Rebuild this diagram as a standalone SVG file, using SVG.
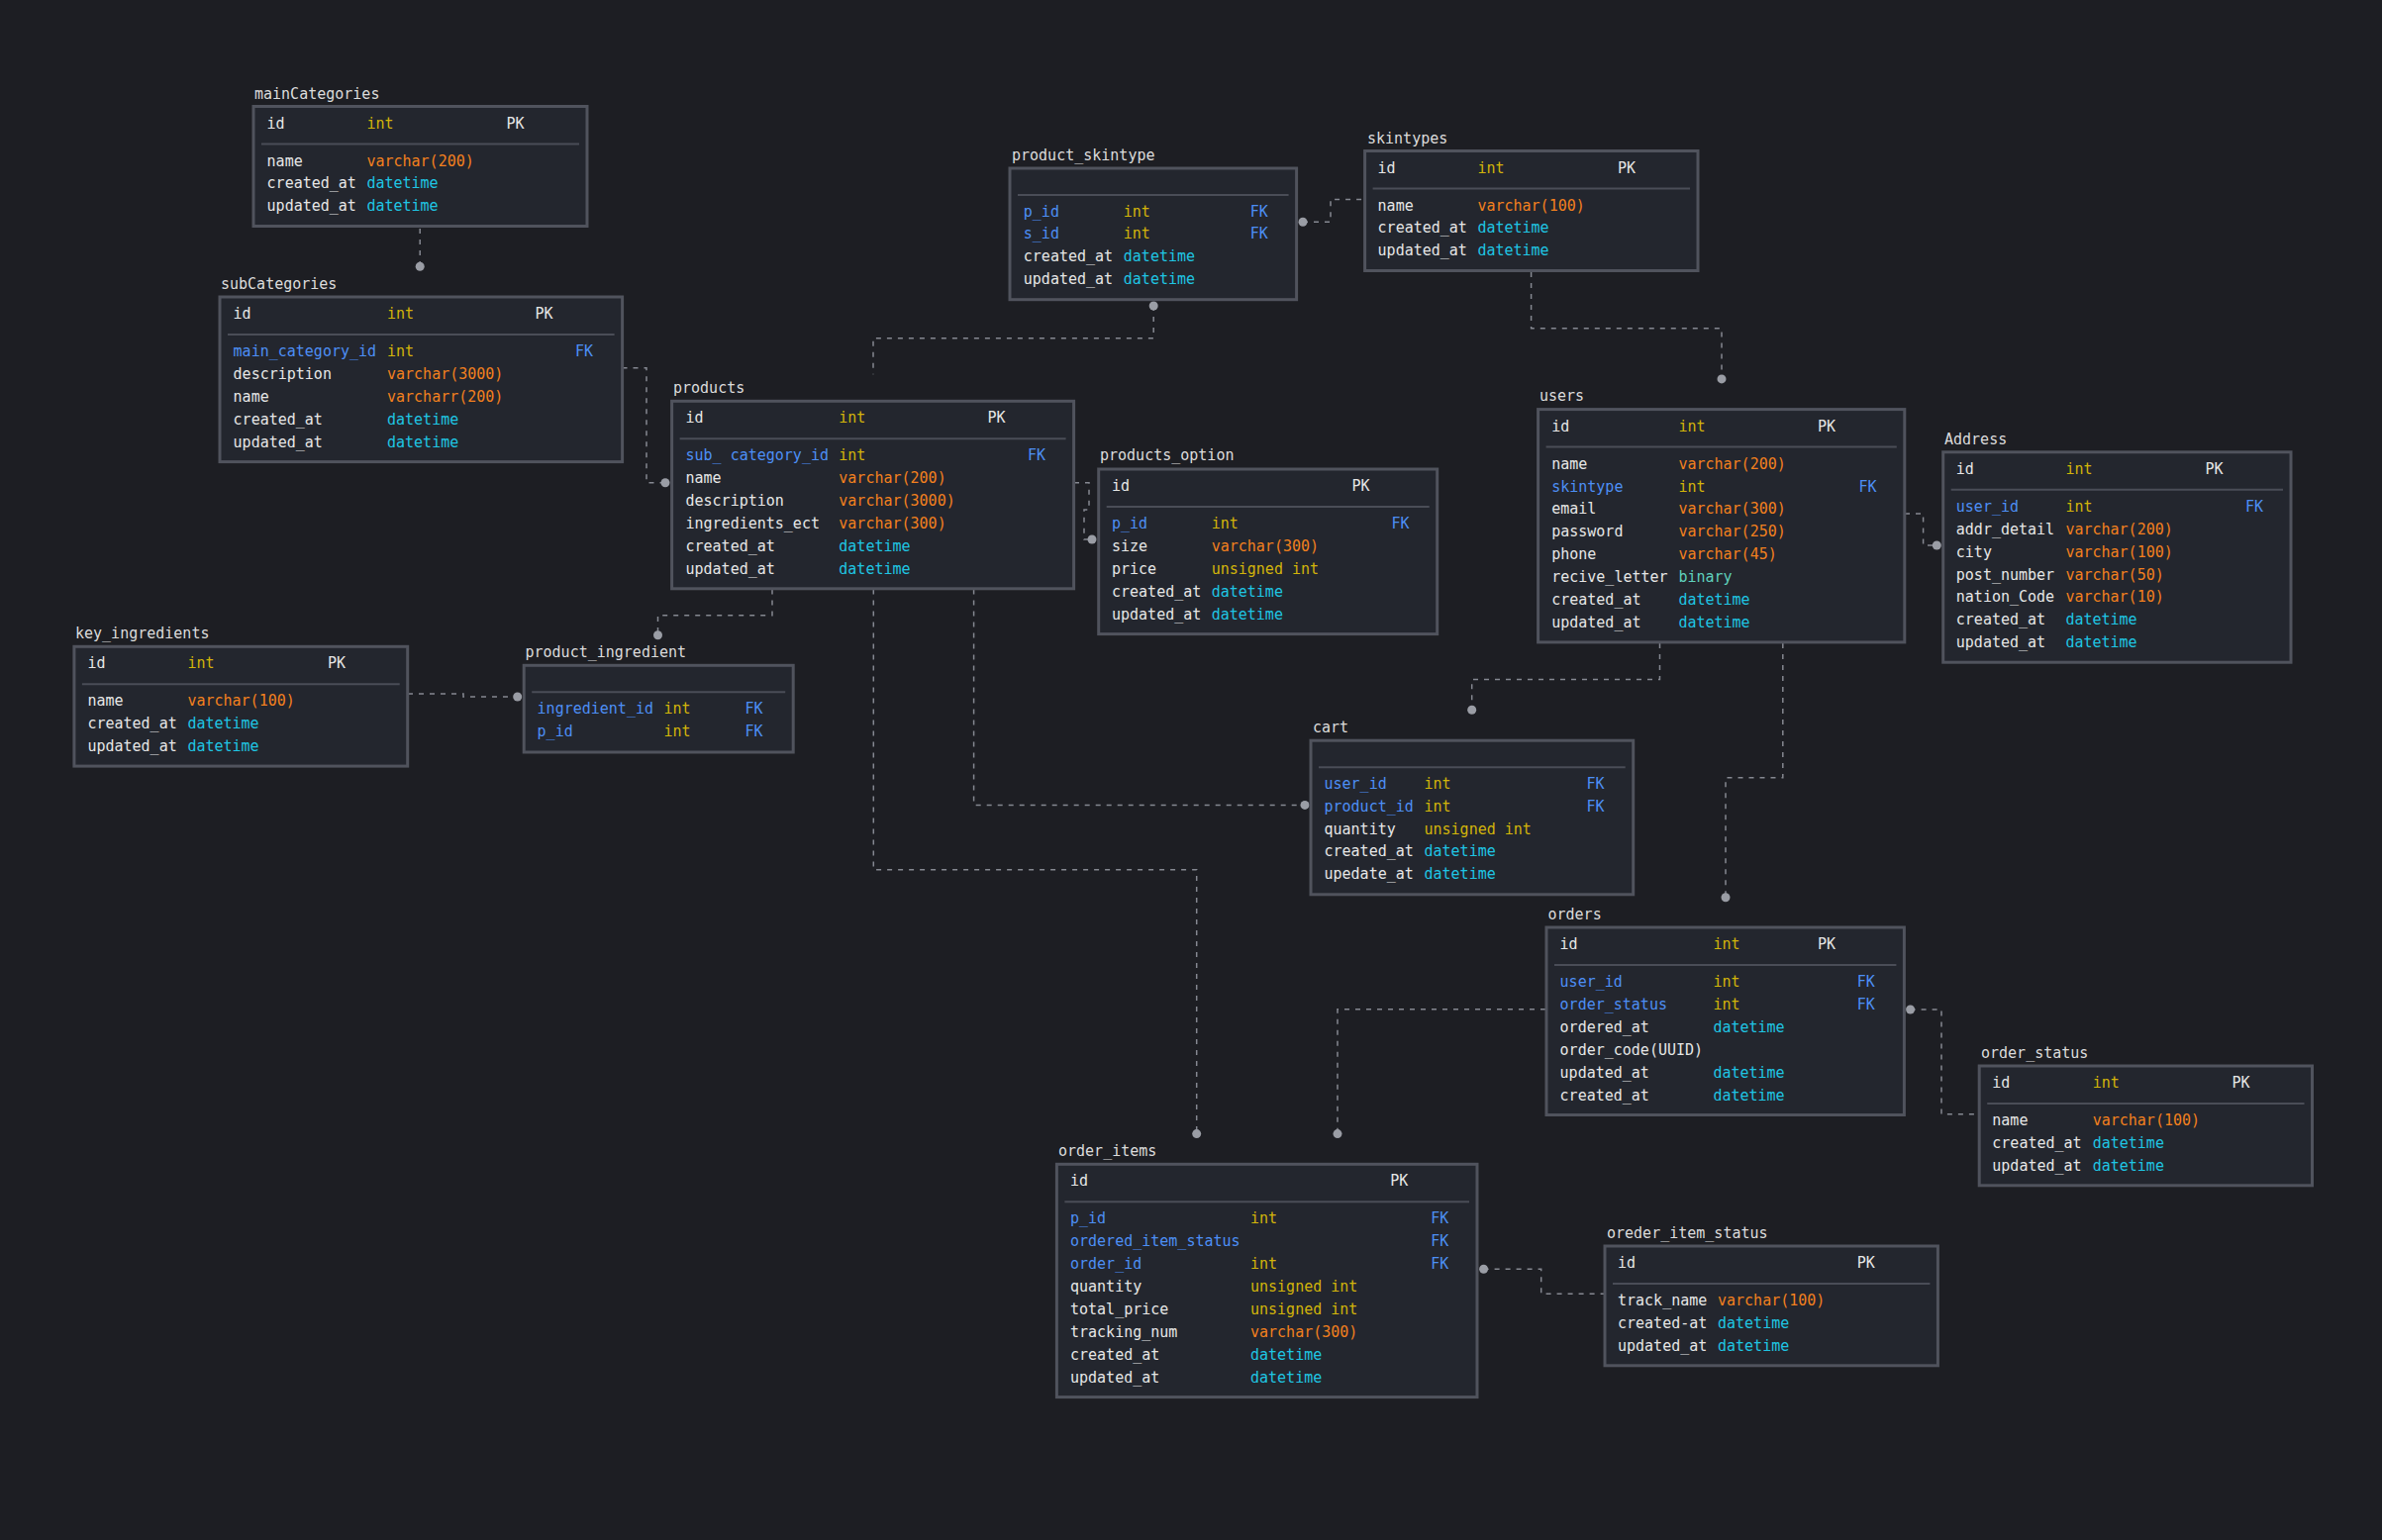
<svg xmlns="http://www.w3.org/2000/svg" width="2406" height="1556" viewBox="0 0 2406 1556">
<defs>
<style>
text{font-family:"DejaVu Sans Mono","Liberation Mono",monospace;font-size:15px;fill:#e6e6e6}
.box{fill:#23262e;stroke:#50535d;stroke-width:3}
.sep{stroke:#4a4d57;stroke-width:2}
.t{fill:#dcdcdc}
.fk{fill:#4d8ff5}
.i{fill:#d2b40a}
.v{fill:#f2801e}
.d{fill:#1fc5e3}
.b{fill:#5fd0bc}
.rel{fill:none;stroke:#858891;stroke-width:1.5;stroke-dasharray:5 6}
</style>
<marker id="dot" markerUnits="userSpaceOnUse" markerWidth="12" markerHeight="12" refX="6" refY="6" viewBox="0 0 12 12" orient="auto">
<circle cx="6" cy="6" r="4.5" fill="#9a9da5"/>
</marker>
</defs>
<rect x="0" y="0" width="2406" height="1556" fill="#1d1e23"/>

<g id="connectors">
<path class="rel" d="M424.2,231 V269.3" marker-end="url(#dot)"/>
<path class="rel" d="M628.5,371.7 H653 V487.7 H672" marker-end="url(#dot)"/>
<path class="rel" d="M1316,224.3 H1344 V201.4 H1378" marker-start="url(#dot)"/>
<path class="rel" d="M1165.2,309 V341.7 H882 V378.3" marker-start="url(#dot)"/>
<path class="rel" d="M1546.6,275 V331.8 H1739 V382.9" marker-end="url(#dot)"/>
<path class="rel" d="M1924,519 H1942.6 V551 H1956.3" marker-end="url(#dot)"/>
<path class="rel" d="M1676.5,650 V686.5 H1486.7 V717.3" marker-end="url(#dot)"/>
<path class="rel" d="M1800.8,650 V785.7 H1743 V906.7" marker-end="url(#dot)"/>
<path class="rel" d="M780,595.5 V621.7 H664.5 V641.7" marker-end="url(#dot)"/>
<path class="rel" d="M412,701 H468 V704 H522.7" marker-end="url(#dot)"/>
<path class="rel" d="M983.6,595.5 V813.4 H1318" marker-end="url(#dot)"/>
<path class="rel" d="M882.3,595.5 V878.7 H1208.7 V1145.6" marker-end="url(#dot)"/>
<path class="rel" d="M1561,1019.8 H1351 V1145.6" marker-end="url(#dot)"/>
<path class="rel" d="M1929.6,1020 H1961 V1125.7 H1998" marker-start="url(#dot)"/>
<path class="rel" d="M1498.6,1282.3 H1556.7 V1307.3 H1620" marker-start="url(#dot)"/>
<path class="rel" d="M1085,487.7 H1100 V515 H1095 V545 H1103" marker-end="url(#dot)"/>
</g>

<g id="mainCategories">
<text class="t" x="257" y="100">mainCategories</text>
<rect class="box" x="256" y="107.5" width="337" height="121"/>
<line class="sep" x1="264" y1="145.5" x2="585" y2="145.5"/>
<text x="269.6" y="129.5">id</text><text class="i" x="370.4" y="129.5">int</text><text x="511.6" y="129.5">PK</text>
<text x="269.6" y="167.5">name</text><text class="v" x="370.4" y="167.5">varchar(200)</text>
<text x="269.6" y="190.4">created_at</text><text class="d" x="370.4" y="190.4">datetime</text>
<text x="269.6" y="213.3">updated_at</text><text class="d" x="370.4" y="213.3">datetime</text>
</g>

<g id="subCategories">
<text class="t" x="223" y="292">subCategories</text>
<rect class="box" x="222" y="300" width="406.6" height="166.6"/>
<line class="sep" x1="230" y1="338" x2="620.6" y2="338"/>
<text x="235.6" y="322">id</text><text class="i" x="391" y="322">int</text><text x="540.4" y="322">PK</text>
<text class="fk" x="235.6" y="360">main_category_id</text><text class="i" x="391" y="360">int</text><text class="fk" x="581" y="360">FK</text>
<text x="235.6" y="382.9">description</text><text class="v" x="391" y="382.9">varchar(3000)</text>
<text x="235.6" y="405.8">name</text><text class="v" x="391" y="405.8">varcharr(200)</text>
<text x="235.6" y="428.7">created_at</text><text class="d" x="391" y="428.7">datetime</text>
<text x="235.6" y="451.6">updated_at</text><text class="d" x="391" y="451.6">datetime</text>
</g>

<g id="product_skintype">
<text class="t" x="1022" y="162">product_skintype</text>
<rect class="box" x="1020" y="170" width="289.6" height="132.7"/>
<line class="sep" x1="1028" y1="197" x2="1301.6" y2="197"/>
<text class="fk" x="1033.8" y="218.5">p_id</text><text class="i" x="1134.8" y="218.5">int</text><text class="fk" x="1262.8" y="218.5">FK</text>
<text class="fk" x="1033.8" y="241.4">s_id</text><text class="i" x="1134.8" y="241.4">int</text><text class="fk" x="1262.8" y="241.4">FK</text>
<text x="1033.8" y="264.3">created_at</text><text class="d" x="1134.8" y="264.3">datetime</text>
<text x="1033.8" y="287.2">updated_at</text><text class="d" x="1134.8" y="287.2">datetime</text>
</g>

<g id="skintypes">
<text class="t" x="1381" y="144.5">skintypes</text>
<rect class="box" x="1378.6" y="152.5" width="336.4" height="121"/>
<line class="sep" x1="1386.6" y1="190.5" x2="1707" y2="190.5"/>
<text x="1391.6" y="174.5">id</text><text class="i" x="1492.4" y="174.5">int</text><text x="1634" y="174.5">PK</text>
<text x="1391.6" y="212.5">name</text><text class="v" x="1492.4" y="212.5">varchar(100)</text>
<text x="1391.6" y="235.4">created_at</text><text class="d" x="1492.4" y="235.4">datetime</text>
<text x="1391.6" y="258.3">updated_at</text><text class="d" x="1492.4" y="258.3">datetime</text>
</g>

<g id="products">
<text class="t" x="680" y="397">products</text>
<rect class="box" x="678.6" y="405.3" width="406" height="189.5"/>
<line class="sep" x1="686.6" y1="443.3" x2="1076.6" y2="443.3"/>
<text x="692.5" y="427.3">id</text><text class="i" x="847.3" y="427.3">int</text><text x="997.4" y="427.3">PK</text>
<text class="fk" x="692.5" y="465.3">sub_ category_id</text><text class="i" x="847.3" y="465.3">int</text><text class="fk" x="1038" y="465.3">FK</text>
<text x="692.5" y="488.2">name</text><text class="v" x="847.3" y="488.2">varchar(200)</text>
<text x="692.5" y="511.1">description</text><text class="v" x="847.3" y="511.1">varchar(3000)</text>
<text x="692.5" y="534">ingredients_ect</text><text class="v" x="847.3" y="534">varchar(300)</text>
<text x="692.5" y="556.9">created_at</text><text class="d" x="847.3" y="556.9">datetime</text>
<text x="692.5" y="579.8">updated_at</text><text class="d" x="847.3" y="579.8">datetime</text>
</g>

<g id="products_option">
<text class="t" x="1111" y="465">products_option</text>
<rect class="box" x="1109.7" y="474" width="342" height="166.6"/>
<line class="sep" x1="1117.7" y1="512" x2="1443.7" y2="512"/>
<text x="1123" y="496">id</text><text x="1365.5" y="496">PK</text>
<text class="fk" x="1123" y="534">p_id</text><text class="i" x="1223.7" y="534">int</text><text class="fk" x="1405.5" y="534">FK</text>
<text x="1123" y="556.9">size</text><text class="v" x="1223.7" y="556.9">varchar(300)</text>
<text x="1123" y="579.8">price</text><text class="i" x="1223.7" y="579.8">unsigned int</text>
<text x="1123" y="602.7">created_at</text><text class="d" x="1223.7" y="602.7">datetime</text>
<text x="1123" y="625.6">updated_at</text><text class="d" x="1223.7" y="625.6">datetime</text>
</g>

<g id="users">
<text class="t" x="1555" y="405">users</text>
<rect class="box" x="1553.6" y="413.6" width="370.2" height="235.3"/>
<line class="sep" x1="1561.6" y1="451.6" x2="1915.8" y2="451.6"/>
<text x="1567.2" y="435.6">id</text><text class="i" x="1695.4" y="435.6">int</text><text x="1836" y="435.6">PK</text>
<text x="1567.2" y="473.6">name</text><text class="v" x="1695.4" y="473.6">varchar(200)</text>
<text class="fk" x="1567.2" y="496.5">skintype</text><text class="i" x="1695.4" y="496.5">int</text><text class="fk" x="1877.6" y="496.5">FK</text>
<text x="1567.2" y="519.4">email</text><text class="v" x="1695.4" y="519.4">varchar(300)</text>
<text x="1567.2" y="542.3">password</text><text class="v" x="1695.4" y="542.3">varchar(250)</text>
<text x="1567.2" y="565.2">phone</text><text class="v" x="1695.4" y="565.2">varchar(45)</text>
<text x="1567.2" y="588.1">recive_letter</text><text class="b" x="1695.4" y="588.1">binary</text>
<text x="1567.2" y="611">created_at</text><text class="d" x="1695.4" y="611">datetime</text>
<text x="1567.2" y="633.9">updated_at</text><text class="d" x="1695.4" y="633.9">datetime</text>
</g>

<g id="Address">
<text class="t" x="1964" y="448.5">Address</text>
<rect class="box" x="1962.7" y="456.8" width="351.3" height="212.4"/>
<line class="sep" x1="1970.7" y1="494.8" x2="2306" y2="494.8"/>
<text x="1975.8" y="478.8">id</text><text class="i" x="2086.4" y="478.8">int</text><text x="2227.6" y="478.8">PK</text>
<text class="fk" x="1975.8" y="516.8">user_id</text><text class="i" x="2086.4" y="516.8">int</text><text class="fk" x="2268" y="516.8">FK</text>
<text x="1975.8" y="539.7">addr_detail</text><text class="v" x="2086.4" y="539.7">varchar(200)</text>
<text x="1975.8" y="562.6">city</text><text class="v" x="2086.4" y="562.6">varchar(100)</text>
<text x="1975.8" y="585.5">post_number</text><text class="v" x="2086.4" y="585.5">varchar(50)</text>
<text x="1975.8" y="608.4">nation_Code</text><text class="v" x="2086.4" y="608.4">varchar(10)</text>
<text x="1975.8" y="631.3">created_at</text><text class="d" x="2086.4" y="631.3">datetime</text>
<text x="1975.8" y="654.2">updated_at</text><text class="d" x="2086.4" y="654.2">datetime</text>
</g>

<g id="key_ingredients">
<text class="t" x="76" y="645">key_ingredients</text>
<rect class="box" x="74.9" y="653.3" width="336.8" height="120.8"/>
<line class="sep" x1="82.9" y1="691.3" x2="403.7" y2="691.3"/>
<text x="88.4" y="675.3">id</text><text class="i" x="189.4" y="675.3">int</text><text x="331" y="675.3">PK</text>
<text x="88.4" y="713.3">name</text><text class="v" x="189.4" y="713.3">varchar(100)</text>
<text x="88.4" y="736.2">created_at</text><text class="d" x="189.4" y="736.2">datetime</text>
<text x="88.4" y="759.1">updated_at</text><text class="d" x="189.4" y="759.1">datetime</text>
</g>

<g id="product_ingredient">
<text class="t" x="530.5" y="664">product_ingredient</text>
<rect class="box" x="529.2" y="672.3" width="272" height="87.7"/>
<line class="sep" x1="537.2" y1="699.3" x2="793.2" y2="699.3"/>
<text class="fk" x="542.6" y="720.8">ingredient_id</text><text class="i" x="670.4" y="720.8">int</text><text class="fk" x="752.5" y="720.8">FK</text>
<text class="fk" x="542.6" y="743.7">p_id</text><text class="i" x="670.4" y="743.7">int</text><text class="fk" x="752.5" y="743.7">FK</text>
</g>

<g id="cart">
<text class="t" x="1326" y="740">cart</text>
<rect class="box" x="1324" y="748.2" width="325.7" height="155.6"/>
<line class="sep" x1="1332" y1="775.2" x2="1641.7" y2="775.2"/>
<text class="fk" x="1337.5" y="796.7">user_id</text><text class="i" x="1438.5" y="796.7">int</text><text class="fk" x="1602.5" y="796.7">FK</text>
<text class="fk" x="1337.5" y="819.6">product_id</text><text class="i" x="1438.5" y="819.6">int</text><text class="fk" x="1602.5" y="819.6">FK</text>
<text x="1337.5" y="842.5">quantity</text><text class="i" x="1438.5" y="842.5">unsigned int</text>
<text x="1337.5" y="865.4">created_at</text><text class="d" x="1438.5" y="865.4">datetime</text>
<text x="1337.5" y="888.3">upedate_at</text><text class="d" x="1438.5" y="888.3">datetime</text>
</g>

<g id="orders">
<text class="t" x="1563.5" y="929">orders</text>
<rect class="box" x="1562" y="937" width="361.4" height="189.5"/>
<line class="sep" x1="1570" y1="975" x2="1915.4" y2="975"/>
<text x="1575.6" y="959">id</text><text class="i" x="1730.4" y="959">int</text><text x="1836" y="959">PK</text>
<text class="fk" x="1575.6" y="997">user_id</text><text class="i" x="1730.4" y="997">int</text><text class="fk" x="1875.8" y="997">FK</text>
<text class="fk" x="1575.6" y="1019.9">order_status</text><text class="i" x="1730.4" y="1019.9">int</text><text class="fk" x="1875.8" y="1019.9">FK</text>
<text x="1575.6" y="1042.8">ordered_at</text><text class="d" x="1730.4" y="1042.8">datetime</text>
<text x="1575.6" y="1065.7">order_code(UUID)</text>
<text x="1575.6" y="1088.6">updated_at</text><text class="d" x="1730.4" y="1088.6">datetime</text>
<text x="1575.6" y="1111.5">created_at</text><text class="d" x="1730.4" y="1111.5">datetime</text>
</g>

<g id="order_status">
<text class="t" x="2001" y="1069">order_status</text>
<rect class="box" x="1999.2" y="1077" width="336.3" height="120.8"/>
<line class="sep" x1="2007.2" y1="1115" x2="2327.5" y2="1115"/>
<text x="2012.3" y="1099">id</text><text class="i" x="2113.7" y="1099">int</text><text x="2254.4" y="1099">PK</text>
<text x="2012.3" y="1137">name</text><text class="v" x="2113.7" y="1137">varchar(100)</text>
<text x="2012.3" y="1159.9">created_at</text><text class="d" x="2113.7" y="1159.9">datetime</text>
<text x="2012.3" y="1182.8">updated_at</text><text class="d" x="2113.7" y="1182.8">datetime</text>
</g>

<g id="order_items">
<text class="t" x="1069" y="1167.5">order_items</text>
<rect class="box" x="1067.4" y="1176.3" width="424.6" height="235.3"/>
<line class="sep" x1="1075.4" y1="1214.3" x2="1484" y2="1214.3"/>
<text x="1081" y="1198.3">id</text><text x="1404.3" y="1198.3">PK</text>
<text class="fk" x="1081" y="1236.3">p_id</text><text class="i" x="1263" y="1236.3">int</text><text class="fk" x="1445.2" y="1236.3">FK</text>
<text class="fk" x="1081" y="1259.2">ordered_item_status</text><text class="fk" x="1445.2" y="1259.2">FK</text>
<text class="fk" x="1081" y="1282.1">order_id</text><text class="i" x="1263" y="1282.1">int</text><text class="fk" x="1445.2" y="1282.1">FK</text>
<text x="1081" y="1305">quantity</text><text class="i" x="1263" y="1305">unsigned int</text>
<text x="1081" y="1327.9">total_price</text><text class="i" x="1263" y="1327.9">unsigned int</text>
<text x="1081" y="1350.8">tracking_num</text><text class="v" x="1263" y="1350.8">varchar(300)</text>
<text x="1081" y="1373.7">created_at</text><text class="d" x="1263" y="1373.7">datetime</text>
<text x="1081" y="1396.6">updated_at</text><text class="d" x="1263" y="1396.6">datetime</text>
</g>

<g id="oreder_item_status">
<text class="t" x="1623" y="1250.5">oreder_item_status</text>
<rect class="box" x="1621" y="1259" width="336.4" height="120.8"/>
<line class="sep" x1="1629" y1="1297" x2="1949.4" y2="1297"/>
<text x="1634" y="1281">id</text><text x="1875.8" y="1281">PK</text>
<text x="1634" y="1319">track_name</text><text class="v" x="1735" y="1319">varchar(100)</text>
<text x="1634" y="1341.9">created-at</text><text class="d" x="1735" y="1341.9">datetime</text>
<text x="1634" y="1364.8">updated_at</text><text class="d" x="1735" y="1364.8">datetime</text>
</g>
</svg>
